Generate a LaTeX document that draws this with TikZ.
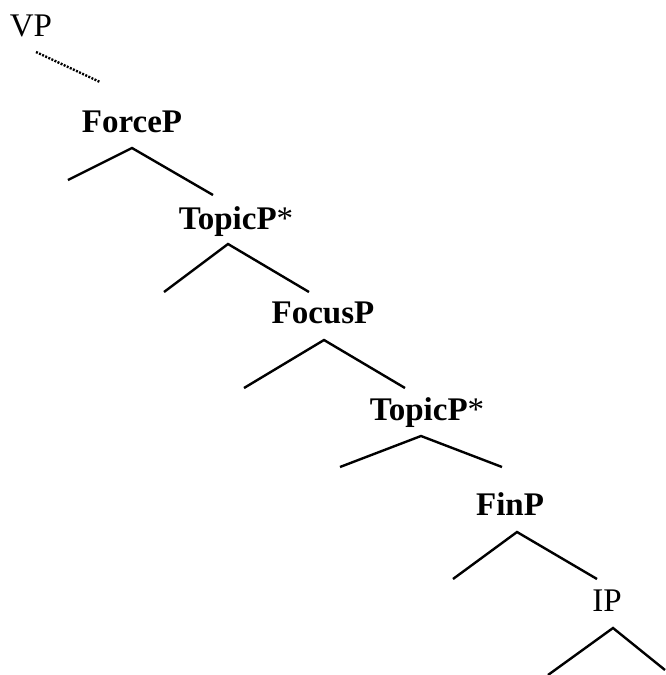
\documentclass[tikz,border=0pt]{standalone}
\usepackage{fontspec}
\setmainfont{Liberation Serif}

\begin{document}
\begin{tikzpicture}[x=0.5pt,y=-0.5pt,line width=1.2pt,
  lbl/.style={inner sep=0mm,anchor=base,font=\fontsize{16.5}{19}\selectfont}]
%\draw[help lines] (0,0) grid (665,675);
\useasboundingbox (0,0) rectangle (665,675);
\foreach \x/\y/\n/\t in {31/36/vp/VP, 132/132/force/\textbf{ForceP}, 236/229/topa/\textbf{TopicP}*, 323/323/focus/\textbf{FocusP}, 427/420/topb/\textbf{TopicP}*, 510/515/fin/\textbf{FinP}, 607/611/ip/IP}
  \node[lbl] (\n) at (\x,\y) {\t};
\foreach \n/\x/\y in {vpfoot/36/52, vpend/100/82,
    fa/132/148, fl/68/180, fr/213/195,
    ta/228/244, tl/164/292, tr/309/292,
    ca/324/340, cl/244/388, cr/405/388,
    sa/421/436, sl/340/467, sr/502/467,
    na/517/532, nl/453/579, nr/597/579,
    ia/613/628, il/548/675, ir/665/670}
  \coordinate (\n) at (\x,\y);
\draw[dash pattern=on 1pt off 0.7pt] (vpfoot) -- (vpend);
\foreach \l/\a/\r in {fl/fa/fr, tl/ta/tr, cl/ca/cr, sl/sa/sr, nl/na/nr, il/ia/ir}
  \draw (\l) -- (\a) -- (\r);
\end{tikzpicture}
\end{document}
